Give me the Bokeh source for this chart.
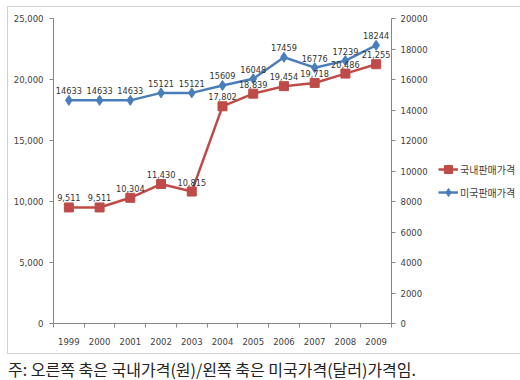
from bokeh.plotting import figure
from bokeh.models import (Range1d, LinearAxis, FixedTicker, NumeralTickFormatter,
                          ColumnDataSource, LabelSet, Legend, LegendItem, Div)
from bokeh.core.properties import value
from bokeh.layouts import column, row
from bokeh.embed import file_html
from bokeh.resources import INLINE

years = ["1999", "2000", "2001", "2002", "2003", "2004", "2005", "2006", "2007", "2008", "2009"]
domestic = [9511, 9511, 10304, 11430, 10815, 17802, 18839, 19454, 19718, 20486, 21255]
us = [14633, 14633, 14633, 15121, 15121, 15609, 16048, 17459, 16776, 17239, 18244]
name_dom = "국내판매가격"
name_us = "미국판매가격"
caption = "주: 오른쪽 축은 국내가격(원)/왼쪽 축은 미국가격(달러)가격임."

xs = list(range(len(years)))
src = ColumnDataSource(dict(
    x=xs, dom=domestic, us=us,
    dom_lbl=[f"{v:,}" for v in domestic],
    us_lbl=[str(v) for v in us],
))

NUMF = "DejaVu Sans"
RED = "#BE4B48"
BLUE = "#4A7EBB"
AX = "#868686"
TXT = "#404040"

p = figure(width=423, height=346, output_backend="svg", toolbar_location=None,
           x_range=Range1d(-0.5, len(years) - 0.5), y_range=Range1d(0, 25000),
           min_border_left=45, min_border_right=40, min_border_top=11, min_border_bottom=30)
p.extra_y_ranges = {"right": Range1d(0, 20000)}
p.outline_line_color = None
p.xgrid.grid_line_color = None
p.ygrid.grid_line_color = None

# x axis
xa = p.xaxis[0]
xa.ticker = FixedTicker(ticks=xs, minor_ticks=[i - 0.5 for i in range(len(years) + 1)])
xa.major_label_overrides = {i: y for i, y in enumerate(years)}
xa.major_tick_line_color = None
xa.minor_tick_line_color = AX
xa.minor_tick_out = 4
xa.minor_tick_in = 0
xa.axis_line_color = AX
xa.major_label_text_font = NUMF
xa.major_label_text_font_size = "8.5px"
xa.major_label_text_color = TXT
xa.major_label_standoff = 8

# left axis
ya = p.yaxis[0]
ya.ticker = FixedTicker(ticks=[0, 5000, 10000, 15000, 20000, 25000])
ya.formatter = NumeralTickFormatter(format="0,0")
ya.minor_tick_line_color = None
ya.major_tick_out = 4
ya.major_tick_in = 0
ya.axis_line_color = AX
ya.major_tick_line_color = AX
ya.major_label_text_font = NUMF
ya.major_label_text_font_size = "8.5px"
ya.major_label_text_color = TXT
ya.major_label_standoff = 6

# right axis
ra = LinearAxis(y_range_name="right", ticker=FixedTicker(ticks=list(range(0, 20001, 2000))))
ra.minor_tick_line_color = None
ra.major_tick_out = 4
ra.major_tick_in = 0
ra.axis_line_color = AX
ra.major_tick_line_color = AX
ra.major_label_text_font = NUMF
ra.major_label_text_font_size = "8.5px"
ra.major_label_text_color = TXT
ra.major_label_standoff = 5
p.add_layout(ra, "right")

p.line("x", "dom", source=src, color=RED, line_width=2.5)
p.scatter("x", "dom", source=src, marker="square", size=9, color=RED)
p.line("x", "us", source=src, color=BLUE, line_width=2.5, y_range_name="right")
p.scatter("x", "us", source=src, marker="diamond", size=10, color=BLUE, y_range_name="right")

p.add_layout(LabelSet(x="x", y="dom", text="dom_lbl", source=src, text_align="center",
                      text_baseline="bottom", y_offset=6, text_font=value(NUMF),
                      text_font_size="8.2px", text_color="#333333"))
p.add_layout(LabelSet(x="x", y="us", text="us_lbl", source=src, text_align="center",
                      text_baseline="bottom", y_offset=6, text_font=value(NUMF),
                      text_font_size="8.2px", text_color="#333333", y_range_name="right"))

# legend panel (same series drawn off-view so only the legend shows)
lf = figure(width=90, height=346, output_backend="svg", toolbar_location=None,
            x_range=Range1d(-101, -100), y_range=Range1d(0, 25000),
            min_border_left=0, min_border_right=0, min_border_top=0, min_border_bottom=0)
lf.axis.visible = False
lf.grid.visible = False
lf.outline_line_color = None
d1 = lf.line("x", "dom", source=src, color=RED, line_width=2.5)
e1 = lf.scatter("x", "dom", source=src, marker="square", size=8, color=RED)
d2 = lf.line("x", "us", source=src, color=BLUE, line_width=2.5)
e2 = lf.scatter("x", "us", source=src, marker="diamond", size=7, color=BLUE)
legend = Legend(items=[LegendItem(label=name_dom, renderers=[d1, e1]),
                       LegendItem(label=name_us, renderers=[d2, e2])],
                location=(7, 121), border_line_color=None, background_fill_alpha=0,
                label_text_font="Noto Sans CJK KR", label_text_font_size="10px",
                label_text_color=TXT, glyph_width=20, glyph_height=20, label_height=20,
                label_standoff=2, spacing=3, padding=0, margin=0)
lf.add_layout(legend, "center")

box = row(p, lf, spacing=0)
box.margin = (6, 0, 0, 7)
box.styles = {"border": "1px solid #d0d0d0"}

div = Div(text=caption, width=505, height=20,
          styles={"font-family": "Noto Sans CJK KR", "font-size": "16px",
                  "line-height": "20px", "color": "#222222", "white-space": "nowrap"},
          margin=(5, 0, 0, 8))

open("out.html", "w").write(file_html(column(box, div), INLINE))
